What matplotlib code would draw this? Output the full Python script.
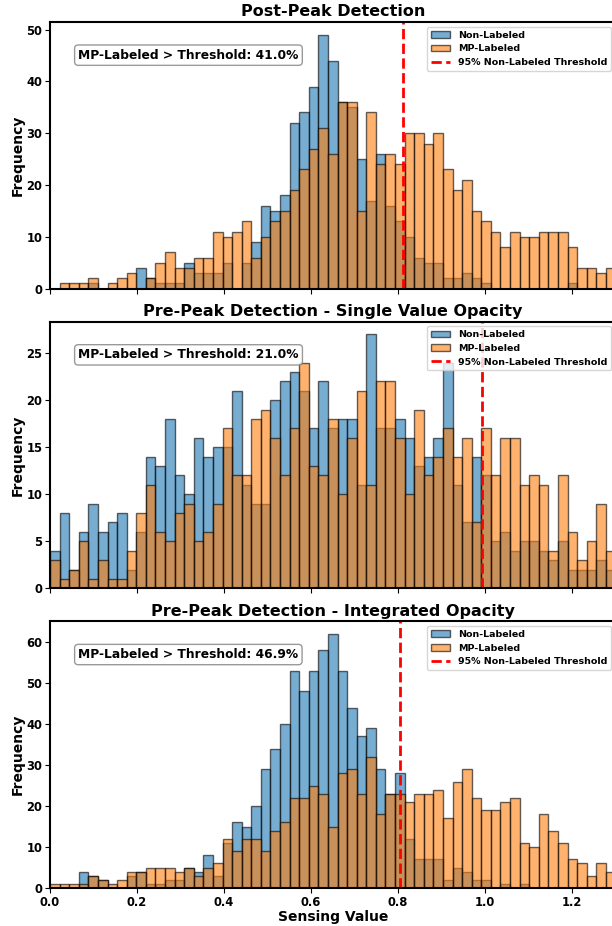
import numpy as np
import matplotlib
matplotlib.use("Agg")
import matplotlib.pyplot as plt

# shared histogram bins for every panel
bin_edges = np.linspace(0, 1.3, 60)
bin_centers = (bin_edges[:-1] + bin_edges[1:]) / 2

titles = [
    "Post-Peak Detection",
    "Pre-Peak Detection - Single Value Opacity",
    "Pre-Peak Detection - Integrated Opacity",
]

# counts per bin, non-labeled samples
post_peak_non = [0, 0, 0, 0, 1, 0, 0, 0, 0, 4, 2, 1, 1, 1, 5, 3, 3, 3, 5, 0,
                 5, 9, 16, 15, 18, 32, 34, 39, 49, 44, 36, 35, 25, 17, 26, 16, 13, 10, 6, 5,
                 5, 2, 2, 3, 2, 1, 0, 0, 0, 0, 0, 0, 0, 0, 1, 0, 0, 0, 0]
single_non = [4, 8, 2, 6, 9, 6, 7, 8, 2, 6, 14, 13, 18, 12, 10, 16, 14, 15, 15, 21,
              11, 9, 9, 20, 22, 23, 21, 17, 22, 17, 18, 18, 11, 27, 17, 17, 18, 16, 13, 14,
              16, 24, 11, 7, 14, 12, 5, 6, 4, 5, 5, 4, 3, 5, 2, 2, 2, 3, 2]
integrated_non = [0, 0, 0, 4, 3, 2, 0, 0, 3, 4, 1, 1, 2, 2, 5, 4, 8, 3, 11, 16,
                  15, 20, 29, 34, 40, 53, 48, 53, 58, 62, 53, 44, 37, 39, 29, 23, 28, 12, 7, 7,
                  7, 2, 5, 4, 2, 2, 0, 1, 0, 1, 0, 0, 0, 0, 0, 0, 0, 0, 0]

# counts per bin, MP-labeled samples
post_peak_mp = [0, 1, 1, 1, 2, 0, 1, 2, 3, 0, 2, 5, 7, 4, 4, 6, 6, 11, 10, 11,
                13, 6, 10, 13, 15, 19, 23, 27, 31, 26, 36, 36, 15, 34, 24, 26, 24, 30, 30, 28,
                30, 23, 19, 21, 15, 13, 11, 8, 11, 10, 10, 11, 11, 11, 8, 4, 4, 3, 4]
single_mp = [3, 1, 2, 5, 1, 3, 1, 1, 4, 8, 11, 6, 5, 8, 9, 5, 6, 9, 17, 12,
             12, 18, 19, 16, 12, 17, 24, 13, 12, 18, 10, 16, 21, 11, 22, 22, 16, 10, 19, 12,
             14, 17, 14, 16, 7, 17, 12, 16, 16, 11, 12, 11, 4, 12, 6, 3, 5, 9, 4]
integrated_mp = [1, 1, 1, 1, 3, 2, 1, 2, 4, 4, 5, 5, 5, 4, 5, 3, 5, 6, 12, 9,
                 12, 12, 9, 14, 16, 22, 22, 25, 23, 15, 28, 29, 23, 32, 18, 23, 23, 21, 23, 23,
                 24, 17, 26, 29, 22, 19, 19, 21, 22, 11, 10, 18, 14, 11, 7, 6, 3, 6, 4]

thresholds = [0.812, 0.993, 0.805]
pct_above = [41.0, 21.0, 46.9]

non_counts = [post_peak_non, single_non, integrated_non]
mp_counts = [post_peak_mp, single_mp, integrated_mp]

plt.rcParams['font.family'] = 'DejaVu Sans'
plt.rcParams['font.weight'] = 'bold'
plt.rcParams['axes.labelweight'] = 'bold'
plt.rcParams['axes.titleweight'] = 'bold'
plt.rcParams['axes.linewidth'] = 1.5

fig, axes = plt.subplots(3, 1, sharex=True, figsize=(6.12, 9.26), dpi=100)
fig.subplots_adjust(left=50 / 612, right=615.5 / 612, top=1 - 22 / 926,
                    bottom=1 - 888 / 926, hspace=0.124)

for ax, title, non, mp, thr, pct in zip(axes, titles, non_counts, mp_counts,
                                         thresholds, pct_above):
    ax.hist(bin_centers, bins=bin_edges, weights=non, alpha=0.6,
            color='tab:blue', edgecolor='black', linewidth=1, label='Non-Labeled')
    ax.hist(bin_centers, bins=bin_edges, weights=mp, alpha=0.6,
            color='tab:orange', edgecolor='black', linewidth=1, label='MP-Labeled')
    ax.axvline(thr, color='red', linestyle='--', linewidth=2,
               label='95% Non-Labeled Threshold')
    ax.set_title(title, fontsize=11.5, pad=4)
    ax.set_ylabel('Frequency', fontsize=10, labelpad=1)
    ax.text(0.05, 0.9, f'MP-Labeled > Threshold: {pct:.1f}%', transform=ax.transAxes,
            fontsize=8.8, va='top',
            bbox=dict(boxstyle='round,pad=0.3', facecolor='white', edgecolor='gray', alpha=0.8))
    ax.legend(loc='upper right', fontsize=6.8)
    ax.tick_params(labelsize=8.3, pad=2)

axes[-1].set_xlim(0, 1.3)
axes[-1].set_xlabel('Sensing Value', fontsize=10, labelpad=1)

plt.savefig('out.png', dpi=100)
